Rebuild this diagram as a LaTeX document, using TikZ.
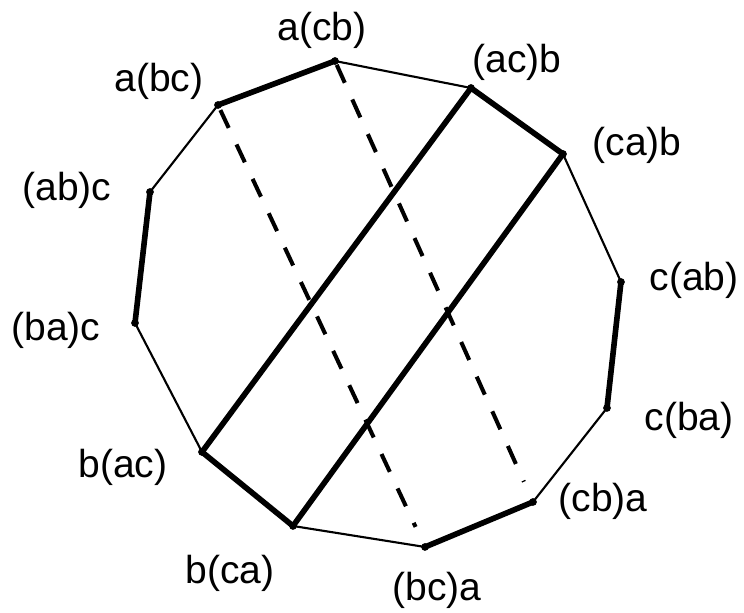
\documentclass[tikz,border=0pt]{standalone}
\usepackage{fontspec}
\setmainfont{Liberation Sans}
\usepackage{tikz}

\begin{document}
\begin{tikzpicture}[x=0.01cm,y=-0.01cm,
  edge/.style={line width=0.6pt},
  bold/.style={line width=1.6pt,line cap=round},
  dashline/.style={line width=1.15pt,dash pattern=on 5.6pt off 5.2pt},
  lbl/.style={inner sep=0pt,font=\fontsize{11.1}{13}\selectfont}]
  \useasboundingbox (0,0) rectangle (744,613);
  % corners of the dodecagon
  \coordinate (a-cb) at (335,61);
  \coordinate (ac-b) at (471,88);
  \coordinate (ca-b) at (563,154);
  \coordinate (c-ab) at (621,282);
  \coordinate (c-ba) at (607,408);
  \coordinate (cb-a) at (533,502);
  \coordinate (bc-a) at (425,547);
  \coordinate (b-ca) at (293,526);
  \coordinate (b-ac) at (202,452);
  \coordinate (ba-c) at (135,323);
  \coordinate (ab-c) at (150,192);
  \coordinate (a-bc) at (218,105);
  % labels
  \node[lbl] (t-a-cb) at (322,30) {a(cb)};
  \node[lbl] (t-ac-b) at (517,62) {(ac)b};
  \node[lbl] (t-ca-b) at (637,145) {(ca)b};
  \node[lbl] (t-c-ab) at (694,280) {c(ab)};
  \node[lbl] (t-c-ba) at (689,420) {c(ba)};
  \node[lbl] (t-cb-a) at (603,501) {(cb)a};
  \node[lbl] (t-bc-a) at (437,590) {(bc)a};
  \node[lbl] (t-b-ca) at (230,573) {b(ca)};
  \node[lbl] (t-b-ac) at (123,467) {b(ac)};
  \node[lbl] (t-ba-c) at (56,330) {(ba)c};
  \node[lbl] (t-ab-c) at (67,190) {(ab)c};
  \node[lbl] (t-a-bc) at (159,81) {a(bc)};
  % sides
  \draw[bold] (a-bc) -- (a-cb);
  \draw[edge] (a-cb) -- (ac-b);
  \draw[bold] (ac-b) -- (ca-b);
  \draw[edge] (ca-b) -- (c-ab);
  \draw[bold] (c-ab) -- (c-ba);
  \draw[edge] (c-ba) -- (cb-a);
  \draw[bold] (cb-a) -- (bc-a);
  \draw[edge] (bc-a) -- (b-ca);
  \draw[bold] (b-ca) -- (b-ac);
  \draw[edge] (b-ac) -- (ba-c);
  \draw[bold] (ba-c) -- (ab-c);
  \draw[edge] (ab-c) -- (a-bc);
  % diagonals
  \draw[bold] (ac-b) -- (b-ac);
  \draw[bold] (ca-b) -- (b-ca);
  \draw[dashline,shorten <=1.6pt,shorten >=6.3pt] (a-bc) -- (bc-a);
  \draw[dashline,shorten <=1.2pt,shorten >=6.3pt] (a-cb) -- (cb-a);
  % dots
  \foreach \v in {a-cb,ac-b,ca-b,c-ab,c-ba,cb-a,bc-a,b-ca,b-ac,ba-c,ab-c,a-bc}
    \fill (\v) circle (1.1pt);
\end{tikzpicture}
\end{document}
